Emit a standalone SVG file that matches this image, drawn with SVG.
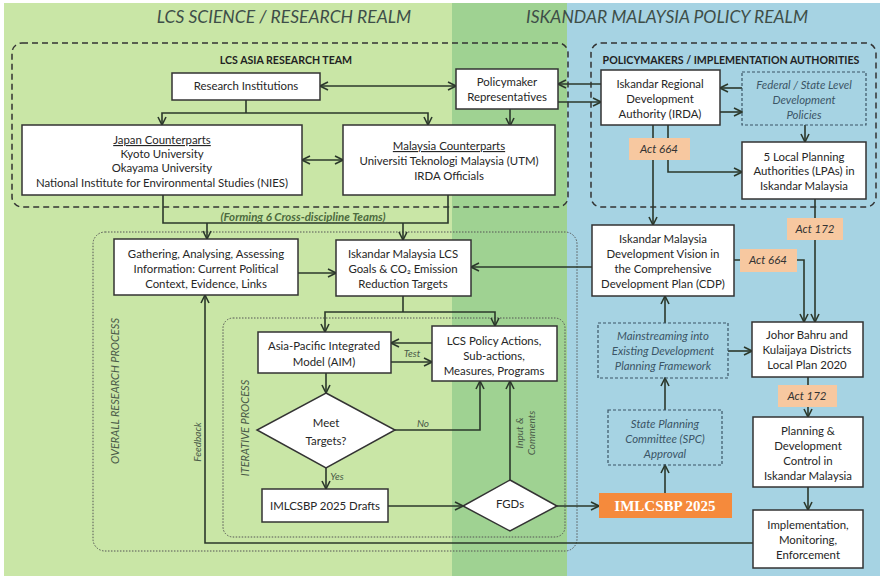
<svg xmlns="http://www.w3.org/2000/svg" width="880" height="576" viewBox="0 0 880 576">
<defs>
<marker id="ah" viewBox="0 0 10 10" refX="9" refY="5" markerWidth="10" markerHeight="10" markerUnits="userSpaceOnUse" orient="auto-start-reverse">
<path d="M1,1 L9,5 L1,9" fill="none" stroke="#2b382b" stroke-width="1.6"/>
</marker>
<style>
.bx{fill:#fff;stroke:#333;stroke-width:1.5}
.t{font-family:Lato,"Liberation Sans",sans-serif;font-size:11.4px;fill:#262626;text-anchor:middle}
.ti{font-family:Lato,"Liberation Sans",sans-serif;font-size:11.4px;fill:#3b5566;text-anchor:middle;font-style:italic}
.hd{font-family:Lato,"Liberation Sans",sans-serif;font-size:17.5px;fill:#3e4e48;text-anchor:middle;font-style:italic}
.sh{font-family:Lato,"Liberation Sans",sans-serif;font-size:10.6px;fill:#222;text-anchor:middle;font-weight:bold}
.lb{font-family:Lato,"Liberation Sans",sans-serif;font-size:10px;fill:#4a5a48;text-anchor:middle;font-style:italic}
.dash{fill:none;stroke:#333;stroke-width:1.5;stroke-dasharray:6,4}
.dot{fill:none;stroke:#555;stroke-width:1;stroke-dasharray:1.5,1.5}
.fd{fill:none;stroke:#3b5566;stroke-width:1.2;stroke-dasharray:3,2}
.c{fill:none;stroke:#2b382b;stroke-width:1.6}
.ar{marker-end:url(#ah)}
.act{fill:#f7c8a0}
.at{font-family:Lato,"Liberation Sans",sans-serif;font-size:11.5px;fill:#333;text-anchor:middle;font-style:italic}
</style>
</defs>
<rect x="0" y="0" width="880" height="576" fill="#fff"/>
<rect x="4" y="3" width="448" height="573" fill="#c9e6a6"/>
<rect x="452" y="3" width="115" height="573" fill="#9fd292"/>
<rect x="567" y="3" width="313" height="573" fill="#a6d3e3"/>

<text class="hd" x="284" y="23">LCS SCIENCE / RESEARCH REALM</text>
<text class="hd" x="667" y="23">ISKANDAR MALAYSIA POLICY REALM</text>

<g id="groups">
<rect class="dash" x="12" y="43" width="556" height="164" rx="10"/>
<text class="sh" x="286" y="64">LCS ASIA RESEARCH TEAM</text>
<rect class="dash" x="591" y="43" width="285" height="164" rx="10"/>
<text class="sh" x="731" y="64">POLICYMAKERS / IMPLEMENTATION AUTHORITIES</text>
<rect class="dot" x="93" y="232" width="484" height="319" rx="12"/>
<text class="lb" transform="translate(119,391) rotate(-90)" style="font-size:11px">OVERALL RESEARCH PROCESS</text>
<rect class="dot" x="223" y="318" width="342" height="219" rx="10"/>
<text class="lb" transform="translate(249,428) rotate(-90)" style="font-size:11px">ITERATIVE PROCESS</text>
</g>

<g id="connectors">
<path class="c" d="M320,86 H456" marker-start="url(#ah)" marker-end="url(#ah)"/>
<path class="c" d="M246,100 V113"/>
<path class="c" d="M162,125 V113 H428 V125" marker-start="url(#ah)" marker-end="url(#ah)"/>
<path class="c ar" d="M510,109 V126"/>
<path class="c" d="M302,160 H343" marker-start="url(#ah)" marker-end="url(#ah)"/>
<path class="c ar" d="M601,84 H558"/>
<path class="c ar" d="M558,102 H601"/>
<path class="c ar" d="M742,88 H720"/>
<path class="c ar" d="M720,112 H742"/>
<path class="c ar" d="M805,125 V142"/>
<path class="c ar" d="M653,125 V225"/>
<path class="c ar" d="M668,125 V172 H742"/>
<path class="c" d="M163,195 V223 H448 V195"/>
<path class="c ar" d="M207,223 V239"/>
<path class="c ar" d="M403,223 V240"/>
<path class="c ar" d="M298,273 H336"/>
<path class="c ar" d="M592,267 H471"/>
<path class="c ar" d="M734,260 H804 V322"/>
<path class="c ar" d="M815,199 V322"/>
<path class="c" d="M403,296 V312"/>
<path class="c" d="M325,332 V312 H495 V326" marker-start="url(#ah)" marker-end="url(#ah)"/>
<path class="c ar" d="M432,343 H391"/>
<path class="c ar" d="M391,362 H432"/>
<path class="c ar" d="M326,373 V393"/>
<path class="c ar" d="M395,430 H480 V381"/>
<path class="c ar" d="M326,468 V489"/>
<path class="c ar" d="M388,506 H463"/>
<path class="c ar" d="M510,480 V381"/>
<path class="c ar" d="M557,506 H599"/>
<path class="c ar" d="M665,493 V465"/>
<path class="c ar" d="M665,410 V378"/>
<path class="c ar" d="M665,323 V296"/>
<path class="c ar" d="M728,351 H752"/>
<path class="c ar" d="M808,377 V417"/>
<path class="c ar" d="M808,487 V510"/>
<path class="c ar" d="M753,543 H205 V295"/>
<text class="lb" x="412" y="357">Test</text>
<text class="lb" x="423" y="427">No</text>
<text class="lb" x="337" y="480">Yes</text>
<text class="lb" transform="translate(201,442) rotate(-90)">Feedback</text>
<text class="lb" transform="translate(523,433) rotate(-90)">Input &amp;</text>
<text class="lb" transform="translate(535,433) rotate(-90)">Comments</text>
<text class="lb" x="303" y="221" style="font-weight:bold;fill:#4d6b3e;font-size:11.5px">(Forming 6 Cross-discipline Teams)</text>
</g>

<g id="acts">
<rect class="act" x="629" y="138" width="61" height="22"/>
<text class="at" x="659" y="153">Act 664</text>
<rect class="act" x="740" y="249" width="57" height="23"/>
<text class="at" x="768" y="264">Act 664</text>
<rect class="act" x="787" y="218" width="56" height="22"/>
<text class="at" x="815" y="233">Act 172</text>
<rect class="act" x="778" y="385" width="59" height="22"/>
<text class="at" x="807" y="400">Act 172</text>
</g>

<g id="research-institutions">
<rect class="bx" x="172" y="73" width="148" height="27"/>
<text class="t" x="246" y="90">Research Institutions</text>
</g>
<g id="policymaker-representatives">
<rect class="bx" x="456" y="69" width="102" height="40"/>
<text class="t" x="507" y="86">Policymaker</text>
<text class="t" x="507" y="101">Representatives</text>
</g>
<g id="japan-counterparts">
<rect class="bx" x="22" y="125" width="280" height="70"/>
<text class="t" x="162" y="144" text-decoration="underline">Japan Counterparts</text>
<text class="t" x="162" y="158">Kyoto University</text>
<text class="t" x="162" y="172">Okayama University</text>
<text class="t" x="162" y="187">National Institute for Environmental Studies (NIES)</text>
</g>
<g id="malaysia-counterparts">
<rect class="bx" x="343" y="125" width="212" height="70"/>
<text class="t" x="449" y="150" text-decoration="underline">Malaysia Counterparts</text>
<text class="t" x="449" y="165">Universiti Teknologi Malaysia (UTM)</text>
<text class="t" x="449" y="180">IRDA Officials</text>
</g>
<g id="irda">
<rect class="bx" x="601" y="70" width="119" height="55"/>
<text class="t" x="660" y="88">Iskandar Regional</text>
<text class="t" x="660" y="103">Development</text>
<text class="t" x="660" y="118">Authority (IRDA)</text>
</g>
<g id="federal-policies">
<rect class="fd" x="742" y="72" width="124" height="53"/>
<text class="ti" x="804" y="89">Federal / State Level</text>
<text class="ti" x="804" y="104">Development</text>
<text class="ti" x="804" y="119">Policies</text>
</g>
<g id="lpas">
<rect class="bx" x="742" y="142" width="124" height="57"/>
<text class="t" x="804" y="161">5 Local Planning</text>
<text class="t" x="804" y="175">Authorities (LPAs) in</text>
<text class="t" x="804" y="190">Iskandar Malaysia</text>
</g>
<g id="gathering">
<rect class="bx" x="114" y="239" width="184" height="56"/>
<text class="t" x="206" y="258">Gathering, Analysing, Assessing</text>
<text class="t" x="206" y="273">Information: Current Political</text>
<text class="t" x="206" y="288">Context, Evidence, Links</text>
</g>
<g id="lcs-goals">
<rect class="bx" x="336" y="240" width="135" height="56"/>
<text class="t" x="403" y="258">Iskandar Malaysia LCS</text>
<text class="t" x="403" y="273">Goals &amp; CO₂ Emission</text>
<text class="t" x="403" y="288">Reduction Targets</text>
</g>
<g id="cdp">
<rect class="bx" x="592" y="225" width="142" height="71"/>
<text class="t" x="663" y="243">Iskandar Malaysia</text>
<text class="t" x="663" y="258">Development Vision in</text>
<text class="t" x="663" y="273">the Comprehensive</text>
<text class="t" x="663" y="288">Development Plan (CDP)</text>
</g>
<g id="aim">
<rect class="bx" x="258" y="332" width="133" height="41"/>
<text class="t" x="324" y="350">Asia-Pacific Integrated</text>
<text class="t" x="324" y="366">Model (AIM)</text>
</g>
<g id="lcs-policy-actions">
<rect class="bx" x="432" y="326" width="125" height="55"/>
<text class="t" x="494" y="345">LCS Policy Actions,</text>
<text class="t" x="494" y="360">Sub-actions,</text>
<text class="t" x="494" y="375">Measures, Programs</text>
</g>
<g id="meet-targets">
<polygon class="bx" points="326,393 395,430 326,468 257,430"/>
<text class="t" x="326" y="427">Meet</text>
<text class="t" x="326" y="445">Targets?</text>
</g>
<g id="drafts">
<rect class="bx" x="262" y="489" width="126" height="33"/>
<text class="t" x="325" y="510">IMLCSBP 2025 Drafts</text>
</g>
<g id="fgds">
<polygon class="bx" points="510,480 557,506 510,531 463,506"/>
<text class="t" x="510" y="508">FGDs</text>
</g>
<g id="imlcsbp-2025">
<rect x="599" y="493" width="133" height="25" fill="#f58a3c"/>
<text x="665" y="511" text-anchor="middle" font-family="'Liberation Serif',serif" font-weight="bold" font-size="15" fill="#fff">IMLCSBP 2025</text>
</g>
<g id="spc">
<rect class="fd" x="608" y="410" width="114" height="55"/>
<text class="ti" x="665" y="428">State Planning</text>
<text class="ti" x="665" y="443">Committee (SPC)</text>
<text class="ti" x="665" y="458">Approval</text>
</g>
<g id="mainstreaming">
<rect class="fd" x="598" y="323" width="130" height="55"/>
<text class="ti" x="663" y="340">Mainstreaming into</text>
<text class="ti" x="663" y="355">Existing Development</text>
<text class="ti" x="663" y="370">Planning Framework</text>
</g>
<g id="local-plan">
<rect class="bx" x="752" y="322" width="111" height="55"/>
<text class="t" x="807" y="339">Johor Bahru and</text>
<text class="t" x="807" y="354">Kulaijaya Districts</text>
<text class="t" x="807" y="369">Local Plan 2020</text>
</g>
<g id="planning-control">
<rect class="bx" x="753" y="417" width="110" height="70"/>
<text class="t" x="808" y="435">Planning &amp;</text>
<text class="t" x="808" y="450">Development</text>
<text class="t" x="808" y="465">Control in</text>
<text class="t" x="808" y="480">Iskandar Malaysia</text>
</g>
<g id="implementation">
<rect class="bx" x="753" y="510" width="110" height="58"/>
<text class="t" x="808" y="529">Implementation,</text>
<text class="t" x="808" y="544">Monitoring,</text>
<text class="t" x="808" y="559">Enforcement</text>
</g>
</svg>
